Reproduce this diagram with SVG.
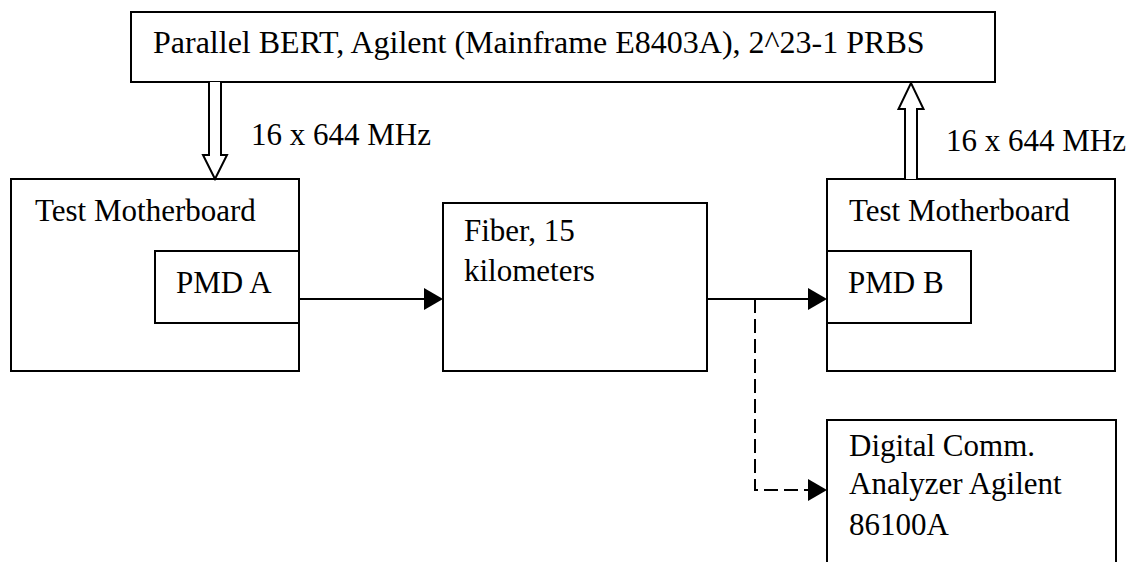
<svg xmlns="http://www.w3.org/2000/svg" width="1135" height="562" viewBox="0 0 1135 562">
<style>
.box{fill:#fff;stroke:#000;stroke-width:2}
.t{font-family:"Liberation Serif","Times New Roman",serif;font-size:31px;fill:#000}
.ln{fill:none;stroke:#000;stroke-width:2}
.dash{stroke-dasharray:14 6}
.hollow{fill:#fff;stroke:#000;stroke-width:2;stroke-linejoin:miter}
</style>
<defs>
<marker id="ah" markerUnits="userSpaceOnUse" markerWidth="20" markerHeight="24" refX="0" refY="11" orient="auto" overflow="visible">
<path d="M0,0 L19,11 L0,22 Z" fill="#000" stroke="none"/>
</marker>
</defs>
<rect width="1135" height="562" fill="#fff"/>
<g id="bert">
<rect class="box" x="131" y="12" width="864" height="70"/>
<text class="t" x="153" y="53" style="font-size:32px">Parallel BERT, Agilent (Mainframe E8403A), 2^23-1 PRBS</text>
</g>
<g id="motherboard-a">
<rect class="box" x="11" y="179" width="288" height="192"/>
<text class="t" x="35" y="221">Test Motherboard</text>
</g>
<g id="pmd-a">
<rect class="box" x="155" y="251" width="144" height="72"/>
<text class="t" x="176" y="293">PMD A</text>
</g>
<g id="fiber">
<rect class="box" x="443" y="203" width="264" height="168"/>
<text class="t" x="464" y="241">Fiber, 15</text>
<text class="t" x="464" y="281">kilometers</text>
</g>
<g id="motherboard-b">
<rect class="box" x="827" y="179" width="288" height="192"/>
<text class="t" x="849" y="221">Test Motherboard</text>
</g>
<g id="pmd-b">
<rect class="box" x="827" y="251" width="144" height="72"/>
<text class="t" x="848" y="293">PMD B</text>
</g>
<g id="dca">
<rect class="box" x="827" y="420" width="289" height="160"/>
<text class="t" x="849" y="456">Digital Comm.</text>
<text class="t" x="849" y="494">Analyzer Agilent</text>
<text class="t" x="849" y="535">86100A</text>
</g>
<g id="connectors">
<path class="hollow" d="M209,82 V155 H203 L215,179 L227,155 H221 V82"/>
<path class="hollow" d="M905,179 V109 H898.5 L911,83 L923.5,109 H917 V179"/>
<text class="t" x="251" y="145">16 x 644 MHz</text>
<text class="t" x="946" y="151">16 x 644 MHz</text>
<line class="ln" x1="299" y1="299" x2="424" y2="299" marker-end="url(#ah)"/>
<line class="ln" x1="707" y1="299" x2="808" y2="299" marker-end="url(#ah)"/>
<path class="ln dash" d="M755,299 V490 H808" marker-end="url(#ah)"/>
</g>
</svg>
